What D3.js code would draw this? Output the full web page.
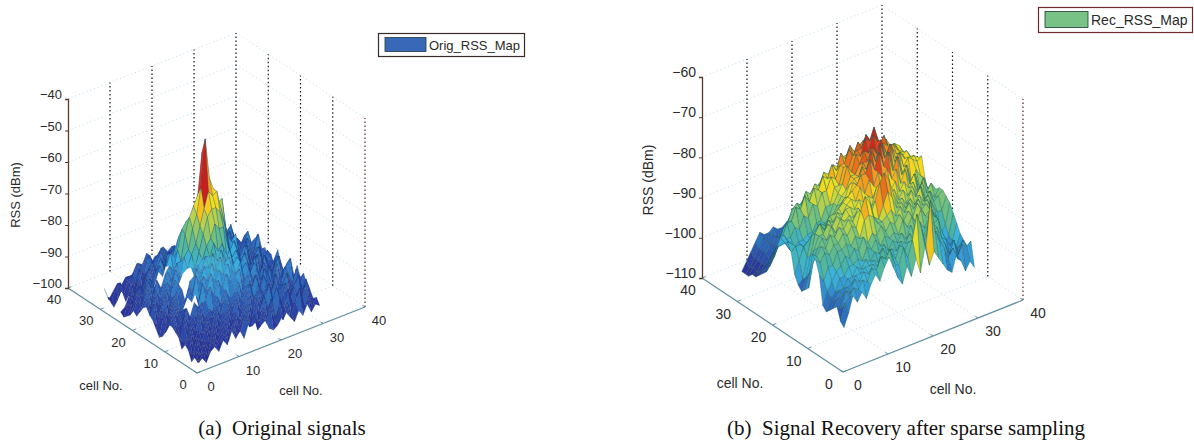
<!DOCTYPE html>
<html lang="en">
<head>
<meta charset="utf-8">
<title>RSS maps: original and recovered</title>
<script src="https://d3js.org/d3.v7.min.js"></script>
<style type="text/css">
body { margin: 0; background: #fff; }
text { font-family: "Liberation Sans", Arial, sans-serif; fill: #2a2a2a; }
.caption { font-family: "Liberation Serif", "Times New Roman", serif; font-size: 21px; fill: #111; }
</style>
</head>
<body>
<script type="text/javascript">

// cell axes and RSS ticks
var cellTicks = [0, 10, 20, 30, 40];
var origTicks = [-100, -90, -80, -70, -60, -50, -40];
var recTicks = [-110, -100, -90, -80, -70, -60];

// jet-like colours as they look in the print
var jetStops = [0, 0.125, 0.25, 0.375, 0.45, 0.55, 0.68, 0.8, 0.92, 1];
var jetColors = ["#28298c", "#2c3aa0", "#2f6fc0", "#3ab4e0", "#49b2a8", "#74c27c", "#f5e020", "#f28c1e", "#d9261c", "#c81e1e"];

// RSS in dBm, one row per cell No. on the left axis (1..30), null = no data
var origRss = [
[-98,-97,-99,-96,-95,-97,-94,-96,-92,-95,-93,-96,-92,-93,-92,-94,-93,-96,-97,-96,-94,-93,-95,-97,-94,-96,-93,-96,-94,-95],
[-97,-99,-96,-98,-94,-96,-95,-93,-96,-92,-95,-94,-90,-94,-91,-96,-92,-94,-90,-95,-92,-96,-91,-95,-92,-88,-94,-92,-95,-93],
[-99,-96,-98,-95,-97,-93,-96,-94,-92,-95,-91,-94,-93,-90,-95,-92,-95,-91,-94,-89,-96,-90,-94,-88,-93,-91,-95,-89,-93,-94],
[-96,-98,-94,-97,-95,-96,-92,-95,-93,-91,-94,-92,-95,-92,-89,-94,-90,-93,-88,-93,-91,-87,-93,-90,-95,-89,-92,-94,-88,-92],
[-95,-93,-97,-94,-96,-92,-95,-91,-94,-92,-90,-93,-91,-94,-90,-88,-93,-89,-92,-90,-86,-92,-89,-94,-88,-93,-90,-87,-92,-91],
[-97,-95,-92,-96,-93,-95,-91,-94,-90,-93,-91,-89,-92,-88,-92,-90,-87,-91,-88,-92,-89,-93,-87,-91,-89,-86,-92,-90,-93,-88],
[-94,-96,-95,-92,-94,-90,-93,-91,-92,-89,-92,-88,-90,-91,-87,-90,-88,-86,-91,-87,-90,-88,-92,-86,-90,-92,-88,-91,-87,-90],
[-93,-95,-91,-94,-92,-93,-89,-92,-90,-91,-87,-90,-86,-89,-88,-85,-89,-87,-90,-85,-91,-86,-89,-91,-87,-93,-86,-89,-92,-87],
[-92,-94,-96,-90,-93,-91,-92,-88,-88,-84,-87,-83,-86,-82,-85,-84,-82,-88,-85,-89,-86,-90,-85,-88,-92,-85,-90,-87,-85,-91],
[-92,-91,-94,-93,-89,-92,-88,-90,-83,-86,-81,-84,-81,-83,-80,-83,-84,-81,-87,-84,-88,-85,-89,-92,-86,-90,-84,-91,-88,-86],
[-95,-93,-90,-92,-94,-90,null,-87,-89,-82,-84,-79,-82,-78,-81,-79,-82,-80,-85,-83,-87,-84,-90,-86,-89,-92,-87,-85,-90,-88],
[-97,-94,-92,-89,-92,-91,-88,-90,-82,-85,-80,-81,-77,-80,-77,-81,-78,-84,-82,-86,-85,-89,-83,-91,-86,-88,-93,-86,-89,-92],
[-98,-92,-95,-91,-88,-93,-90,-86,-88,-81,-83,-78,-79,-75,-78,-76,-80,-81,-85,-83,-88,-85,-90,-87,-92,-85,-89,-91,-87,-90],
[-96,-93,-91,-94,-90,-87,-89,-91,-85,-84,-81,-80,-76,-74,-70,-72,-72,-78,-83,-81,-86,-83,-88,-91,-85,-90,-87,-93,-89,-86],
[-94,-96,-92,-88,-93,-89,-86,-88,null,-82,-83,-78,-73,-68,-66,-66,-68,-72,-80,-84,-82,-87,-84,-89,-92,-86,-91,-88,-90,-92],
[-93,-90,-95,-91,-87,-90,-85,-87,-84,-83,-79,-76,-71,-66,-61,-63,-62,-68,-74,-83,-80,-85,-88,-83,-90,-87,-85,-92,-87,-89],
[-91,-94,-89,-92,-90,-86,-88,-83,-86,-80,-78,-72,-68,-60,-45,-58,-62,-67,-66,-76,-84,-81,-86,-90,-84,-91,-88,-86,-93,-90],
[-92,-90,-93,-88,-91,-87,-84,-87,-82,-82,-74,-69,-66,-63,-50,-57,-65,-68,-72,-80,-79,-82,-80,-88,-85,-89,-92,-87,-90,-88],
[-94,-91,-88,-92,-86,-89,-85,-83,-85,-79,-73,-71,-72,-69,-67,-70,-72,-75,-78,-76,-81,-85,-83,-86,-90,-86,-88,-91,-84,-89],
[-96,-93,-90,-87,-91,-88,null,-84,-80,-82,-76,-77,-74,-75,-73,-76,-79,-77,-80,-82,-84,-80,-87,-85,-88,-91,-86,-89,-90,-85],
[-95,-92,-94,-89,-87,-90,-86,-88,-83,-84,-80,-79,-81,-78,-80,-82,-79,-84,-83,-86,-83,-88,-85,-90,-87,-89,-92,-86,-88,-87],
[-97,-94,-91,-93,-88,-91,-89,-85,-87,-82,-85,-83,-84,-86,-83,-85,-87,-82,-86,-84,-88,-86,-91,-86,-89,-87,-90,-88,-85,-90],
[-98,-96,-93,-90,-92,-88,-90,-87,-84,-88,-83,-86,-87,-84,-88,-86,-84,-88,-85,-89,-87,-90,-85,-88,-92,-86,-89,-91,-87,-89],
[-99,-95,-97,-92,-94,-90,-87,-91,-89,-86,-89,-84,-88,-90,-86,-89,-87,-85,-90,-88,-86,-91,-88,-84,-90,-87,-91,-88,-90,-92],
[-98,-97,-94,-96,-92,-95,-91,-88,-92,-90,-87,-91,-89,-86,-91,-88,-90,-92,-87,-89,-92,-87,-90,-88,-85,-91,-86,-90,-92,-91],
[-100,null,-97,-93,-96,-91,-94,-90,-88,-92,-89,-87,-90,-92,-88,-90,-87,-91,-89,-93,-88,-90,-86,-91,-89,-92,-88,-85,-90,-93],
[-98,-96,-95,-97,-92,-94,-89,-93,-91,-88,-91,-86,-92,-89,-87,-92,-90,-88,-92,-90,-91,-87,-92,-89,-93,-87,-90,-91,-88,-92],
[-97,-99,-94,-96,-93,-91,-95,-90,-92,-87,-90,-88,-86,-91,-89,-88,-92,-90,-87,-91,-89,-93,-88,-91,-90,-92,-86,-89,-92,-90],
[-96,-97,-95,-93,-96,-92,-93,-89,-91,-89,-88,-91,-89,-87,-92,-90,-88,-91,-89,-92,-90,-88,-92,-87,-91,-89,-90,-88,-91,-89],
[-94,-98,-96,-94,-95,-93,-94,-92,-90,-91,-88,-92,-90,-91,-88,-90,-89,-92,-90,-88,-91,-89,-90,-88,-92,-88,-87,-90,-89,-91]
];

var recRss = [
[-100,-97,-93,-95,-93,-95,-92,-90,-92,-89,-87,-90,-93,-95,-91,-94,-90,-94,-88,-93,-90,-92,-94,-96,-97,-93,-95,-98,-96,-98],
[-99,-95,-94,-92,-93,-91,-92,-89,-90,-87,-88,-86,-90,-91,-87,-90,-86,-80,-84,-89,-78,-86,-89,-91,-94,-92,-95,-92,-93,-92],
[-96,-97,-93,-94,-91,-92,-90,-91,-89,-90,-88,-89,-88,-90,-87,-89,-87,-88,-85,-89,-87,-88,-87,-90,-91,-94,-91,-95,-92,-94],
[-97,-95,-95,-93,-93,-91,-91,-90,-90,-89,-90,-87,-89,-88,-89,-87,-88,-86,-88,-86,-88,-86,-88,-87,-90,-91,-93,-96,-94,-93],
[-98,-96,-94,-94,-92,-92,-90,-91,-89,-90,-88,-89,-87,-89,-87,-88,-86,-88,-85,-87,-85,-87,-85,-87,-86,-90,-93,-97,-95,-92],
[-99,-96,-95,-92,-92,-90,-90,-89,-90,-87,-88,-86,-88,-86,-87,-86,-87,-84,-86,-84,-86,-83,-85,-84,-86,-89,-92,-96,-94,-90],
[-98,-95,-93,-91,-90,-88,-89,-87,-88,-85,-87,-85,-86,-84,-86,-84,-85,-83,-85,-83,-85,-82,-84,-83,-85,-87,-91,-95,-93,-88],
[-91,-93,-90,-90,-87,-87,-86,-87,-85,-86,-82,-81,-82,-84,-84,-83,-82,-84,-82,-84,-82,-84,-82,-84,-83,-86,-88,-93,-91,-86],
[-88,-89,-87,-88,-86,-86,-84,-85,-83,-84,-80,-77,-79,-83,-84,-81,-78,-80,-83,-82,-84,-82,-84,-82,-84,-83,-86,-88,-88,-85],
[-87,-88,-86,-87,-84,-85,-83,-84,-82,-83,-81,-82,-80,-83,-80,-76,-74,-76,-80,-83,-82,-84,-81,-83,-81,-85,-83,-86,-85,-84],
[-96,-90,-87,-85,-86,-83,-85,-82,-83,-82,-83,-81,-83,-81,-82,-78,-79,-77,-82,-80,-83,-81,-83,-81,-84,-82,-86,-84,-86,-84],
[-97,-93,-88,-85,-85,-83,-84,-82,-83,-81,-81,-82,-80,-81,-80,-81,-79,-80,-79,-81,-79,-82,-80,-82,-81,-84,-82,-85,-83,-85],
[-98,-95,-90,-85,-83,-85,-83,-84,-82,-83,-81,-80,-81,-78,-80,-77,-79,-76,-78,-76,-79,-77,-81,-78,-82,-80,-85,-82,-85,-86],
[-97,-96,-91,-86,-85,-84,-85,-83,-83,-82,-81,-80,-79,-78,-76,-76,-73,-76,-72,-76,-73,-78,-75,-80,-78,-83,-81,-85,-83,-87],
[-95,-92,-89,-88,-87,-87,-86,-86,-85,-84,-83,-81,-81,-78,-79,-75,-76,-72,-75,-71,-75,-74,-79,-76,-81,-79,-84,-81,-83,-84],
[-90,-89,-89,-90,-90,-89,-88,-88,-87,-87,-85,-83,-82,-79,-78,-78,-75,-75,-72,-74,-71,-76,-73,-78,-76,-80,-78,-79,-80,-79],
[-88,-89,-91,-92,-92,-91,-91,-89,-89,-88,-86,-84,-82,-81,-78,-78,-76,-73,-74,-70,-72,-73,-76,-74,-78,-77,-79,-80,-79,-80],
[-87,-89,-92,-92,-92,-91,-91,-90,-90,-88,-87,-84,-82,-80,-76,-78,-74,-75,-71,-72,-69,-73,-74,-75,-76,-78,-78,-80,-80,-81],
[-88,-90,-92,-92,-91,-91,-90,-90,-88,-88,-85,-85,-81,-81,-77,-78,-75,-74,-74,-71,-73,-72,-75,-73,-77,-76,-78,-80,-79,-81],
[-91,-91,-90,-90,-88,-89,-86,-87,-84,-85,-82,-82,-79,-80,-77,-77,-74,-76,-73,-75,-73,-75,-73,-76,-75,-78,-77,-79,-80,-81],
[-94,-92,-90,-87,-87,-84,-85,-82,-84,-81,-82,-79,-80,-77,-79,-75,-77,-74,-76,-75,-74,-75,-75,-75,-77,-76,-78,-78,-79,-81],
[-97,-95,-92,-89,-88,-85,-84,-85,-82,-83,-81,-82,-79,-80,-78,-79,-77,-77,-76,-77,-76,-76,-77,-76,-78,-78,-79,-79,-80,-81],
[-99,-97,-95,-93,-91,-88,-87,-86,-85,-84,-84,-83,-82,-82,-81,-80,-80,-79,-79,-78,-78,-78,-79,-78,-79,-79,-80,-81,-81,-82],
[-100,-98,-97,-95,-94,-92,-90,-89,-87,-86,-86,-85,-84,-84,-83,-82,-82,-81,-81,-80,-80,-80,-81,-80,-81,-81,-82,-82,-83,-82],
[-101,-100,-99,-97,-96,-95,-93,-91,-90,-88,-88,-87,-86,-86,-85,-84,-84,-83,-83,-82,-82,-82,-83,-82,-83,-83,-83,-84,-84,-84],
[-102,-101,-100,-99,-98,-96,-95,-93,-92,-91,-90,-89,-88,-87,-87,-86,-86,-85,-85,-84,-84,-84,-84,-84,-85,-85,-85,-85,-85,-85],
[-102,-102,-100,-98,-97,-97,-96,-95,-94,-93,-92,-91,-90,-89,-89,-88,-88,-87,-87,-86,-86,-86,-86,-86,-86,-86,-87,-86,-86,-85],
[-103,-101,-100,-98,-96,-97,-96,-96,-95,-94,-93,-92,-92,-91,-90,-90,-89,-89,-88,-88,-88,-88,-88,-88,-88,-88,-88,-88,-88,-87],
[-103,-102,-100,-98,-96,-96,-96,-97,-96,-95,-94,-93,-93,-92,-92,-91,-91,-90,-90,-90,-89,-89,-90,-89,-90,-89,-90,-90,-89,-89],
[-103,-101,-99,-97,-95,-96,-96,-95,-96,-96,-95,-95,-94,-94,-93,-93,-92,-92,-92,-91,-91,-91,-91,-91,-91,-91,-91,-90,-91,-90]
];

var svg = d3.select("body").append("svg").attr("width", 1194).attr("height", 442);

//draw one 3D panel, the view is a plain affine projection so scales are enough
function drawPanel(p) {
	var g = svg.append("g");

	var uX = d3.scaleLinear().domain([0, 40]).range([0, p.right[0] - p.origin[0]]);
	var uY = d3.scaleLinear().domain([0, 40]).range([0, p.right[1] - p.origin[1]]);
	var vX = d3.scaleLinear().domain([0, 40]).range([0, p.left[0] - p.origin[0]]);
	var vY = d3.scaleLinear().domain([0, 40]).range([0, p.left[1] - p.origin[1]]);
	var zY = d3.scaleLinear().domain(d3.extent(p.ticks)).range([0, -p.height]);
	var zAxisY = d3.scaleLinear().domain(d3.extent(p.ticks)).range([p.left[1], p.left[1] - p.height]);

	function project(u, v, z) {
		return [p.origin[0] + uX(u) + vX(v), p.origin[1] + uY(u) + vY(v) + zY(z)];
	}

	var color = d3.scaleLinear()
		.domain(jetStops.map(function(t) { return p.cmin + t * (p.cmax - p.cmin); }))
		.range(jetColors)
		.clamp(true);

	var zMin = p.ticks[0], zMax = p.ticks[p.ticks.length - 1];
	var line = function(a, b) {
		return g.append("line").attr("x1", a[0]).attr("y1", a[1]).attr("x2", b[0]).attr("y2", b[1]);
	};

	//light dotted grid on the floor and walls
	function grid(a, b) {
		line(a, b).attr("stroke", "#bfe0f2").attr("stroke-width", 1).attr("stroke-dasharray", "1 3");
	}
	p.ticks.forEach(function(t) {
		grid(project(0, 40, t), project(40, 40, t));
		grid(project(40, 40, t), project(40, 0, t));
	});
	cellTicks.slice(1, 4).forEach(function(t) {
		grid(project(t, 0, zMin), project(t, 40, zMin));
		grid(project(0, t, zMin), project(40, t, zMin));
	});

	//black dotted verticals on the back walls
	cellTicks.slice(1).forEach(function(t) {
		line(project(t, 40, zMin), project(t, 40, zMax)).attr("stroke", "#111").attr("stroke-width", 1.2).attr("stroke-dasharray", "1.5 2.5");
		if (t < 40) line(project(40, t, zMin), project(40, t, zMax)).attr("stroke", "#111").attr("stroke-width", 1.2).attr("stroke-dasharray", "1.5 2.5");
	});
	line(project(40, 0, zMin), project(40, 0, zMax)).attr("stroke", "#5a2020").attr("stroke-width", 1.2).attr("stroke-dasharray", "1.5 2.5");

	//floor axes
	line(project(0, 0, zMin), project(40, 0, zMin)).attr("stroke", "#5f8ea0").attr("stroke-width", 1.2);
	line(project(0, 0, zMin), project(0, 40, zMin)).attr("stroke", "#5f8ea0").attr("stroke-width", 1.2);
	cellTicks.forEach(function(t) {
		line(project(t, 0, zMin), project(t, 0.8, zMin)).attr("stroke", "#5f8ea0");
		line(project(0, t, zMin), project(0.8, t, zMin)).attr("stroke", "#5f8ea0");
		var a = project(t, 0, zMin), b = project(0, t, zMin);
		g.append("text").attr("x", a[0] + p.uOff[0]).attr("y", a[1] + p.uOff[1] + 5)
			.attr("text-anchor", "middle").style("font-size", p.font + "px").text(t);
		g.append("text").attr("x", b[0] + p.vOff[0]).attr("y", b[1] + p.vOff[1] + 5)
			.attr("text-anchor", "middle").style("font-size", p.font + "px").text(t);
	});

	//RSS axis
	var zAxis = d3.axisLeft(zAxisY).tickValues(p.ticks).tickSize(3).tickFormat(d3.format("d"));
	var ag = g.append("g").attr("transform", "translate(" + p.left[0] + ",0)").call(zAxis);
	ag.select(".domain").attr("stroke", "#5a3a2a").attr("stroke-width", 1.3);
	ag.selectAll(".tick line").attr("stroke", "#5a3a2a");
	ag.selectAll(".tick text").attr("dy", "-0.02em").attr("x", -6)
		.style("font-size", p.font + "px").style("font-family", '"Liberation Sans", Arial, sans-serif').attr("fill", "#2a2a2a");

	g.append("text").attr("x", p.uLabel[0]).attr("y", p.uLabel[1] + 5).attr("text-anchor", "middle")
		.style("font-size", p.font + "px").text("cell No.");
	g.append("text").attr("x", p.vLabel[0]).attr("y", p.vLabel[1] + 5).attr("text-anchor", "middle")
		.style("font-size", p.font + "px").text("cell No.");
	g.append("text").attr("transform", "translate(" + p.zLabel[0] + "," + p.zLabel[1] + ") rotate(-90)")
		.attr("text-anchor", "middle").style("font-size", p.font + "px").text("RSS (dBm)");

	//surface cells, back corner first so the front ones paint over them
	var cells = [];
	for (var v = p.data.length - 1; v > 0; v--) {
		for (var u = p.data[v].length - 1; u > 0; u--) {
			cells.push({u: u, v: v});
		}
	}
	function hasHole(d) {
		return [p.data[d.v][d.u], p.data[d.v][d.u - 1], p.data[d.v - 1][d.u - 1], p.data[d.v - 1][d.u]].indexOf(null) >= 0;
	}
	g.append("g").selectAll("path").data(cells).enter().append("path")
		.attr("d", function(d) {
			var c = [[d.u, d.v], [d.u - 1, d.v], [d.u - 1, d.v - 1], [d.u, d.v - 1]];
			return d3.line()(c.map(function(k) {
				var z = p.data[k[1]][k[0]];
				return project(k[0] + 1, k[1] + 1, z === null ? p.holeLevel : z);
			})) + "Z";
		})
		//flat colour from the back corner of the cell
		.attr("fill", function(d) { return hasHole(d) ? "#fff" : color(p.data[d.v][d.u]); })
		.attr("stroke", function(d) { return hasHole(d) ? "#fff" : p.edge; })
		.attr("stroke-opacity", function(d) { return hasHole(d) ? 1 : p.edgeOpacity; })
		.attr("stroke-width", 0.5);

	//legend
	var lg = svg.append("g");
	lg.append("rect").attr("x", p.legend[0]).attr("y", p.legend[1]).attr("width", p.legend[2]).attr("height", p.legend[3])
		.attr("fill", "#fff").attr("stroke", p.legendBorder).attr("stroke-width", 1.2);
	lg.append("rect").attr("x", p.legend[0] + 6.5).attr("y", p.legend[1] + 4).attr("width", p.patch).attr("height", p.legend[3] - 9)
		.attr("fill", p.legendColor).attr("stroke", "#1c3a3a").attr("stroke-width", 0.8);
	lg.append("text").attr("x", p.legend[0] + 6.5 + p.patch + 3).attr("y", p.legend[1] + p.legend[3] / 2 + 5)
		.style("font-size", p.font + "px").text(p.name);

	svg.append("text").attr("class", "caption").attr("x", p.caption[0]).attr("y", p.caption[1])
		.attr("text-anchor", "middle").attr("xml:space", "preserve").text(p.captionText);
}

drawPanel({
	data: origRss, ticks: origTicks, cmin: -100, cmax: -45, holeLevel: -93,
	origin: [197, 373], left: [68, 288], right: [365, 307], height: 189,
	uOff: [14, 13], vOff: [-14, 11], uLabel: [301, 390], vLabel: [101, 385], zLabel: [20, 195],
	font: 13, edge: "#1c3570", edgeOpacity: 0.45, name: "Orig_RSS_Map", legend: [378.5, 33.5, 146, 23], patch: 41,
	legendColor: "#3a68b8", legendBorder: "#3a2a2a",
	caption: [282, 435], captionText: "(a)  Original signals"
});

drawPanel({
	data: recRss, ticks: recTicks, cmin: -104, cmax: -68, holeLevel: -90,
	origin: [843, 372], left: [702, 278], right: [1023, 300], height: 201,
	uOff: [15, 13], vOff: [-14, 12], uLabel: [953, 389], vLabel: [740, 383], zLabel: [653, 180],
	font: 14, edge: "#1a5a50", edgeOpacity: 0.65, name: "Rec_RSS_Map", legend: [1038.5, 7.5, 154, 25], patch: 43,
	legendColor: "#78c285", legendBorder: "#6a2a2a",
	caption: [906, 435], captionText: "(b)  Signal Recovery after sparse sampling"
});

</script>
</body>
</html>
